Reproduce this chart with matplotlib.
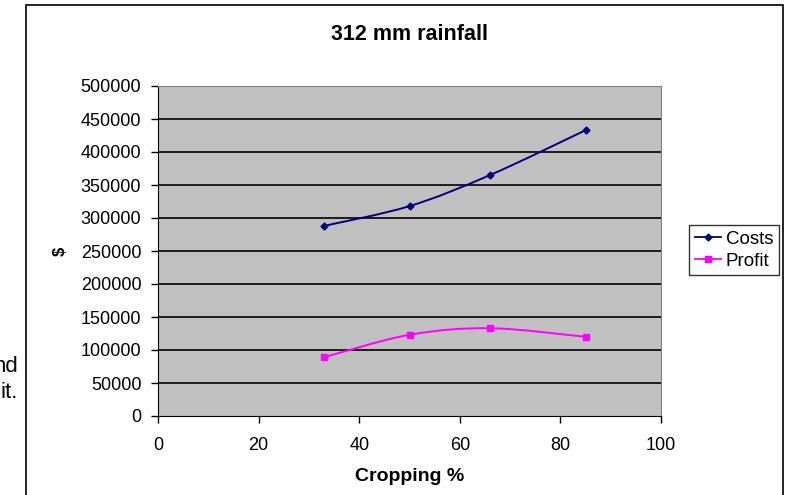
import numpy as np
import matplotlib
matplotlib.use("Agg")
import matplotlib.pyplot as plt
from matplotlib.path import Path
from matplotlib.patches import PathPatch, Rectangle
from matplotlib.lines import Line2D

# values
cropping = [33, 50, 66, 85]
costs = [288000, 318000, 365000, 433000]
profit = [89000, 123000, 133000, 120000]
yticks = list(range(0, 500001, 50000))
xticks = [0, 20, 40, 60, 80, 100]

plt.rcParams['font.family'] = ['Liberation Sans', 'DejaVu Sans']


def smooth_path(xs, ys):
    # Excel style smoothed line: cubic bezier through every point
    xs = np.asarray(xs, float)
    ys = np.asarray(ys, float)
    n = len(xs)
    verts = [(xs[0], ys[0])]
    codes = [Path.MOVETO]
    for i in range(n - 1):
        x0, y0 = (xs[i - 1], ys[i - 1]) if i > 0 else (xs[i], ys[i])
        x3, y3 = (xs[i + 2], ys[i + 2]) if i + 2 < n else (xs[i + 1], ys[i + 1])
        c1 = (xs[i] + (xs[i + 1] - x0) / 6, ys[i] + (ys[i + 1] - y0) / 6)
        c2 = (xs[i + 1] - (x3 - xs[i]) / 6, ys[i + 1] - (y3 - ys[i]) / 6)
        verts += [c1, c2, (xs[i + 1], ys[i + 1])]
        codes += [Path.CURVE4] * 3
    return Path(verts, codes)


fig = plt.figure(figsize=(7.91, 4.95), dpi=100)
W, H = 791, 495

# outer chart frame
fig.patches.append(Rectangle((26 / W, -0.05), (783 - 26) / W, 1.05 - 5 / H,
                             transform=fig.transFigure, fill=False,
                             edgecolor='black', lw=1.2))

ax = fig.add_axes([158 / W, 1 - 416 / H, (661 - 158) / W, (416 - 86) / H])
ax.set_facecolor('#c0c0c0')
ax.set_xlim(0, 100)
ax.set_ylim(0, 500000)
ax.set_xticks(xticks)
ax.set_yticks(yticks)
ax.set_yticklabels([str(v) for v in yticks])
ax.tick_params(direction='out', length=5, width=1, labelsize=13, colors='black')
ax.tick_params(axis='y', pad=7)
ax.tick_params(axis='x', pad=10)
for v in yticks[1:]:
    ax.axhline(v, color='black', lw=1.2, zorder=1)
ax.spines['left'].set_color('black')
ax.spines['bottom'].set_color('black')
ax.spines['top'].set_color('#808080')
ax.spines['right'].set_color('#808080')

navy = '#000080'
pink = '#ff00ff'
ax.add_patch(PathPatch(smooth_path(cropping, costs), fill=False, edgecolor=navy, lw=1.4, zorder=3))
ax.plot(cropping, costs, linestyle='none', marker='D', ms=3.5, color=navy, zorder=4)
ax.add_patch(PathPatch(smooth_path(cropping, profit), fill=False, edgecolor=pink, lw=1.4, zorder=3))
ax.plot(cropping, profit, linestyle='none', marker='s', ms=4, color=pink, zorder=4)

ax.set_title('312 mm rainfall', fontsize=15.5, fontweight='bold', pad=33)
ax.set_xlabel('Cropping %', fontsize=14, fontweight='bold', labelpad=10)
ax.set_ylabel('$', fontsize=12, fontweight='bold', rotation=90, labelpad=9)

handles = [Line2D([], [], color=navy, marker='D', ms=3.5, lw=1.3),
           Line2D([], [], color=pink, marker='s', ms=4, lw=1.3)]
leg = fig.legend(handles, ['Costs', 'Profit'], loc='upper left',
                 bbox_to_anchor=(689 / W, 1 - 225 / H), fontsize=13.5,
                 frameon=True, fancybox=False, edgecolor='black',
                 handlelength=1.4, handletextpad=0.25, borderpad=0.3,
                 labelspacing=0.25, borderaxespad=0)
leg.get_frame().set_linewidth(1)

# text of the page behind the chart, cut off at the left
fig.text(18 / W, 1 - 367 / H, 'nd', ha='right', va='center', fontsize=16)
fig.text(18 / W, 1 - 393 / H, 'it.', ha='right', va='center', fontsize=16)

fig.savefig('out.png', dpi=100)
